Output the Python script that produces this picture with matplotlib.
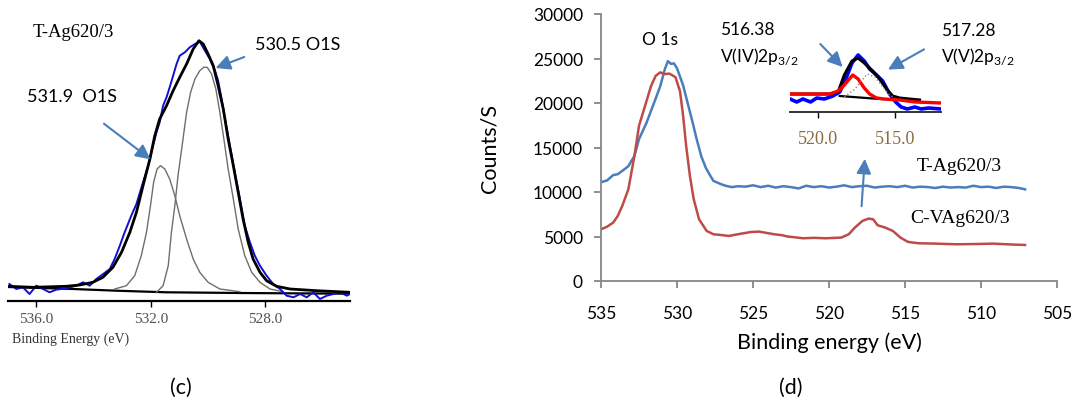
import matplotlib
matplotlib.use("Agg")
import matplotlib.pyplot as plt

plt.rcParams['font.family'] = ['Lato', 'DejaVu Sans']
plt.rcParams['mathtext.fontset'] = 'custom'
plt.rcParams['mathtext.rm'] = 'Lato'

# ---------- panel (c): O1s fit of T-Ag620/3 (arbitrary intensity) ----------
c_env_x = [536.98, 536.11, 534.95, 534.48, 534.02, 533.67, 533.32, 533.02, 532.73, 532.50,
           532.27, 532.03, 531.86, 531.69, 531.45, 531.22, 530.99, 530.75, 530.52, 530.32,
           530.17, 530.00, 529.82, 529.65, 529.47, 529.30, 529.12, 528.95, 528.78, 528.60,
           528.43, 528.19, 527.96, 527.61, 527.14, 526.21, 525.05]
c_env_y = [14.7, 13.7, 14.7, 16, 18.7, 23.7, 33.7, 48.7, 68.7, 88.7,
           115.3, 142, 165.3, 182, 195.3, 210.3, 223.7, 237, 252, 260.3,
           257, 247, 235.3, 215.3, 192, 162, 135.3, 108.7, 82, 58.7,
           42, 28.7, 20.3, 14.7, 12, 10.3, 8.7]

c_raw_x = [536.93, 536.69, 536.46, 536.23, 535.99, 535.76, 535.53, 535.30, 534.95, 534.60,
           534.36, 534.13, 533.90, 533.66, 533.43, 533.26, 533.08, 532.91, 532.68, 532.50,
           532.27, 532.09, 531.92, 531.80, 531.69, 531.57, 531.45, 531.34, 531.22, 531.10,
           530.99, 530.81, 530.64, 530.46, 530.29, 530.11, 529.94, 529.76, 529.65, 529.53,
           529.41, 529.24, 529.07, 528.89, 528.72, 528.54, 528.37, 528.19, 527.96, 527.73,
           527.49, 527.26, 527.02, 526.79, 526.56, 526.33, 526.10, 525.86, 525.63, 525.40,
           525.16, 525.05]
c_raw_y = [17, 12, 13.7, 7, 15.3, 12, 8.7, 11.3, 12.7, 15.3,
           18.7, 15.3, 22, 27, 32, 42, 55.3, 68.7, 85.3, 97,
           118.7, 135.3, 155.3, 168.7, 178.7, 195.3, 203.7, 213.7, 225.3, 237,
           245.3, 248.7, 253.7, 257, 259.3, 250.3, 242, 230.3, 220.3, 202,
           182, 155.3, 128.7, 102, 75.3, 58.7, 45.3, 35.3, 25.3, 17,
           12, 5.3, 3.7, 7, 3.7, 8.7, 2, 5.3, 7, 8.7,
           5.3, 7]

c_p1_x = [533.26, 532.85, 532.56, 532.33, 532.15, 532.01, 531.90, 531.78, 531.66, 531.51,
          531.34, 531.16, 530.99, 530.75, 530.52, 530.29, 530.00, 529.59, 528.89]
c_p1_y = [12, 15.3, 25.3, 45.3, 68.7, 95.3, 118.7, 132, 135.3, 132,
          122, 105.3, 85.3, 62, 42, 28.7, 18.7, 12, 9.3]

c_p2_x = [531.80, 531.57, 531.39, 531.28, 531.16, 531.05, 530.89, 530.75, 530.61, 530.46,
          530.29, 530.15, 530.03, 529.88, 529.73, 529.59, 529.45, 529.30, 529.12, 528.95,
          528.72, 528.48, 528.19, 527.84, 527.38]
c_p2_y = [8.7, 15.3, 35.3, 68.7, 95.3, 125.3, 158.7, 188.7, 208.7, 222,
          230.3, 233.7, 233.7, 227, 212, 188.7, 162, 132, 102, 72,
          45.3, 28.7, 18.7, 12, 9.3]

c_bg_x = [536.98, 534.71, 533.20, 531.45, 528.89, 525.05]
c_bg_y = [14, 12, 10.3, 8.7, 8, 7.3]

c_ticks = [536.0, 532.0, 528.0]

# ---------- panel (d): survey of O1s / V2p region ----------
t_x = [535, 534.6, 534.2, 533.9, 533.5, 533.2, 532.8, 532.5, 532.0, 531.5,
       531.1, 530.8, 530.6, 530.4, 530.2, 530.0, 529.6, 529.3, 529.0, 528.7,
       528.4, 528.1, 527.8, 527.6, 527.4, 527.1, 526.8, 526.4, 526.0, 525.5,
       525.0, 524.5, 524.0, 523.5, 523.0, 522.5, 522.0, 521.5, 521.0, 520.5,
       520.0, 519.5, 519.0, 518.5, 518.0, 517.5, 517.0, 516.5, 516.0, 515.5,
       515.0, 514.5, 514.0, 513.5, 513.0, 512.5, 512.0, 511.5, 511.0, 510.5,
       510.0, 509.5, 509.0, 508.5, 508.0, 507.5, 507.1]
t_y = [11100, 11300, 11900, 12000, 12500, 12900, 14060, 15940, 17800, 20060,
       21900, 23800, 24700, 24400, 24450, 23900, 22000, 20000, 18000, 15900,
       14000, 12700, 11800, 11250, 11100, 10875, 10700, 10550, 10650, 10600,
       10750, 10550, 10700, 10500, 10650, 10550, 10400, 10700, 10550, 10650,
       10500, 10600, 10750, 10550, 10650, 10700, 10500, 10600, 10650, 10550,
       10700, 10500, 10600, 10550, 10450, 10600, 10500, 10550, 10500, 10700,
       10550, 10600, 10450, 10600, 10550, 10450, 10300]

cv_x = [535, 534.6, 534.2, 533.9, 533.6, 533.2, 532.8, 532.5, 532.1, 531.7,
        531.4, 531.1, 530.8, 530.5, 530.1, 529.8, 529.6, 529.4, 529.15, 528.9,
        528.55, 528.05, 527.6, 527.0, 526.6, 526.0, 525.5, 525.1, 524.6, 524.1,
        523.6, 523.1, 522.7, 522.2, 521.7, 521.0, 520.2, 519.6, 519.2, 518.7,
        518.3, 517.8, 517.4, 517.1, 516.8, 516.3, 515.8, 515.3, 514.8, 514.1,
        513.0, 511.6, 510.5, 509.2, 508.0, 507.1]
cv_y = [5810, 6100, 6560, 7300, 8440, 10310, 14060, 17440, 19690, 21940,
        23060, 23440, 23250, 23300, 22900, 21300, 18600, 15200, 11800, 9190,
        6940, 5625, 5250, 5150, 5060, 5250, 5400, 5510, 5550, 5400,
        5250, 5150, 4990, 4900, 4800, 4850, 4800, 4850, 4875, 5250,
        6000, 6750, 7010, 6940, 6260, 6000, 5625, 4875, 4390, 4240,
        4200, 4125, 4150, 4200, 4100, 4050]

d_xticks = [535, 530, 525, 520, 515, 510, 505]
d_yticks = [0, 5000, 10000, 15000, 20000, 25000, 30000]

# ---------- inset of (d): V2p3/2 fit (arbitrary intensity) ----------
in_raw_x = [521.84, 521.4, 521.0, 520.5, 520.1, 519.6, 519.05, 518.6, 518.2, 517.8,
            517.4, 517.0, 516.65, 516.2, 515.8, 515.35, 514.95, 514.6, 514.2, 513.7,
            513.3, 512.8, 512.0]
in_raw_y = [13, 10, 13, 10, 14, 13, 16, 20, 33, 49,
            57, 51, 43, 37, 31, 18, 10, 5, 3, 5,
            3, 4, 3]
in_env_x = [521.84, 519.25, 518.7, 518.3, 517.8, 517.4, 517.0, 516.45, 516.0, 515.55,
            515.15, 514.7, 513.4]
in_env_y = [18, 18, 20, 37, 51, 54, 49, 41, 33, 23,
            16, 14, 12]
in_v4_x = [521.84, 520.5, 519.25, 518.7, 518.3, 517.75, 517.4, 517.0, 516.65, 516.2,
           515.7, 514.7, 513.7, 512.0]
in_v4_y = [18, 18, 18, 21, 27, 37, 33, 24, 18, 14,
           13, 12, 10, 9]
in_v5_x = [518.3, 517.6, 517.2, 516.8, 516.3, 515.9, 515.35, 515.0]
in_v5_y = [15, 23, 31, 38, 35, 27, 17, 14]
in_bg_x = [518.6, 516.0, 513.4]
in_bg_y = [16, 13, 12]
in_ticks = [520.0, 515.0]

W, H = 1075, 414
fig = plt.figure(figsize=(W / 100, H / 100), dpi=100)


def box(x0, y0, x1, y1):
    # pixel box (top-left origin) -> figure fraction rect
    return [x0 / W, 1 - y1 / H, (x1 - x0) / W, (y1 - y0) / H]


# ---- (c) ----
axc = fig.add_axes(box(8, 20, 350, 302))
axc.plot(c_bg_x, c_bg_y, color='black', lw=1.6)
axc.plot(c_p1_x, c_p1_y, color='#6e6e6e', lw=1.0)
axc.plot(c_p2_x, c_p2_y, color='#6e6e6e', lw=1.0)
axc.plot(c_raw_x, c_raw_y, color='#1010d0', lw=1.4)
axc.plot(c_env_x, c_env_y, color='black', lw=2.0)
axc.set_xlim(536.98, 525.05)
axc.set_ylim(0, 282)
for s in ['top', 'right', 'left']:
    axc.spines[s].set_visible(False)
axc.spines['bottom'].set_linewidth(1.6)
axc.set_yticks([])
axc.set_xticks(c_ticks)
axc.set_xticklabels(['%.1f' % t for t in c_ticks])
axc.tick_params(axis='x', direction='out', length=4, width=1, pad=4,
                labelsize=11, labelcolor='#505050')
for lab in axc.get_xticklabels():
    lab.set_family('Liberation Serif')
fig.text(12 / W, 1 - 339 / H, 'Binding Energy (eV)', family='Liberation Serif',
         fontsize=10, color='#333333', ha='left', va='center')
axc.text(534.69, 269, 'T-Ag620/3', family='Liberation Serif', fontsize=13.5,
         ha='center', va='center')
axc.text(526.86, 257, '530.5 O1S', fontsize=13, ha='center', va='center')
axc.text(534.76, 205, '531.9  O1S', fontsize=13, ha='center', va='center')
arrow_kw = dict(arrowstyle='-|>', color='#4a7ebb', lw=1.5, mutation_scale=22)
axc.annotate('', xy=(529.83, 232), xytext=(528.65, 245), arrowprops=arrow_kw)
axc.annotate('', xy=(531.93, 140), xytext=(533.71, 179), arrowprops=arrow_kw)

# ---- (d) ----
axd = fig.add_axes(box(601, 15, 1057, 282))
axd.plot(t_x, t_y, color='#4a7ebb', lw=1.8)
axd.plot(cv_x, cv_y, color='#be4b48', lw=1.8)
axd.set_xlim(535, 505)
axd.set_ylim(0, 30000)
axd.set_xticks(d_xticks)
axd.set_yticks(d_yticks)
for s in ['top', 'right']:
    axd.spines[s].set_visible(False)
for s in ['left', 'bottom']:
    axd.spines[s].set_color('#868686')
    axd.spines[s].set_linewidth(1.3)
axd.tick_params(direction='out', length=5, width=1.3, color='#868686', labelsize=12.5)
axd.tick_params(axis='y', pad=8)
axd.tick_params(axis='x', pad=12)
axd.set_xlabel('Binding energy (eV)', fontsize=15.5, labelpad=8)
axd.set_ylabel('Counts/S', fontsize=15.5, labelpad=24)

axd.text(531.12, 27190, 'O 1s', fontsize=12.5, ha='center', va='center')
axd.text(527.17, 28310, '516.38', fontsize=12.5, ha='left', va='center')
axd.text(527.17, 25280, r'V(IV)2p$_{\mathrm{3/2}}$', fontsize=12.5, ha='left', va='center')
axd.text(512.63, 28200, '517.28', fontsize=12.5, ha='left', va='center')
axd.text(512.63, 25280, r'V(V)2p$_{\mathrm{3/2}}$', fontsize=12.5, ha='left', va='center')
axd.text(511.45, 13030, 'T-Ag620/3', family='Liberation Serif', fontsize=14,
         ha='center', va='center')
axd.text(511.38, 7080, 'C-VAg620/3', family='Liberation Serif', fontsize=14,
         ha='center', va='center')
axd.annotate('', xy=(518.98, 23820), xytext=(520.70, 26850), arrowprops=arrow_kw)
axd.annotate('', xy=(516.28, 23600), xytext=(513.59, 26180), arrowprops=arrow_kw)
axd.annotate('', xy=(517.63, 14040), xytext=(517.87, 8090), arrowprops=arrow_kw)

# ---- inset ----
axi = fig.add_axes(box(790, 53, 941, 113))
axi.set_facecolor('none')
axi.plot(in_raw_x, in_raw_y, color='#0000ff', lw=2.6)
axi.plot(in_bg_x, in_bg_y, color='black', lw=1.6)
axi.plot(in_env_x, in_env_y, color='black', lw=2.2)
axi.plot(in_v4_x, in_v4_y, color='#ff0000', lw=2.4)
axi.plot(in_v5_x, in_v5_y, color='#888888', lw=1.0, ls=':')
axi.set_xlim(521.84, 512.0)
axi.set_ylim(0, 60)
for s in ['top', 'right', 'left']:
    axi.spines[s].set_visible(False)
axi.spines['bottom'].set_color('#333333')
axi.spines['bottom'].set_linewidth(1.4)
axi.set_yticks([])
axi.set_xticks(in_ticks)
axi.set_xticklabels(['%.1f' % t for t in in_ticks])
axi.tick_params(axis='x', direction='out', length=4, width=1, pad=9,
                labelsize=13, labelcolor='#8b6b3d')
for lab in axi.get_xticklabels():
    lab.set_family('Liberation Serif')

fig.text(181 / W, 1 - 388 / H, '(c)', fontsize=15.5, ha='center', va='center')
fig.text(791 / W, 1 - 388 / H, '(d)', fontsize=15.5, ha='center', va='center')

fig.savefig('out.png', dpi=100)
